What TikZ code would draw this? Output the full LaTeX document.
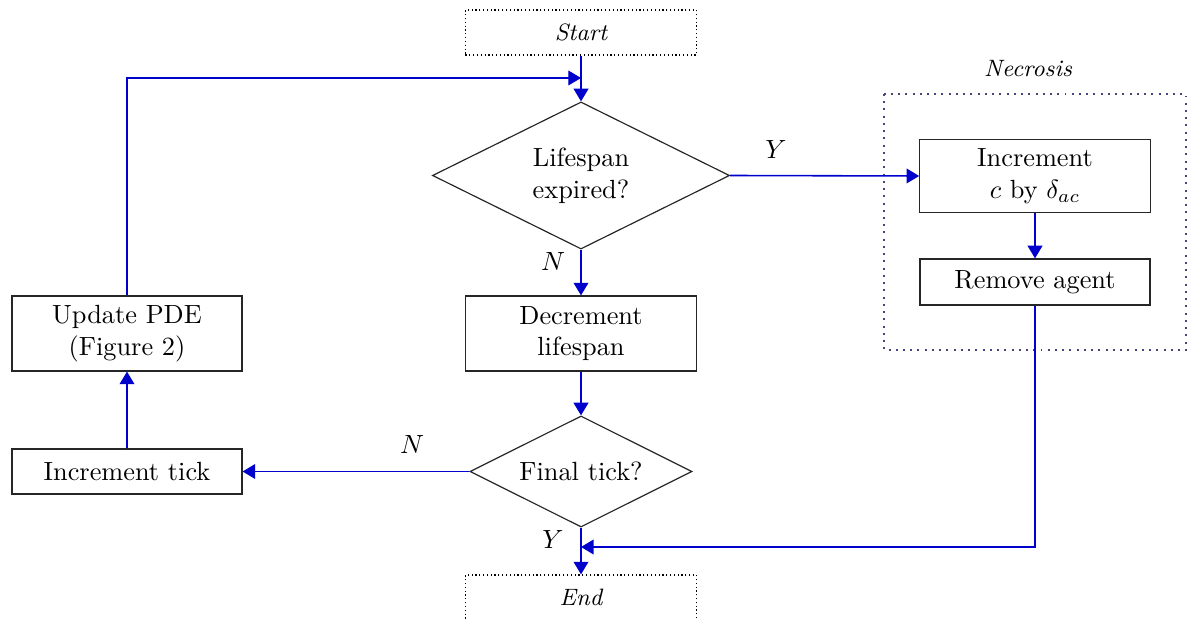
\documentclass[tikz,border=0pt]{standalone}
\usetikzlibrary{shapes.geometric,arrows.meta}
\definecolor{flowblue}{RGB}{0,0,204}
\definecolor{groupframe}{RGB}{70,70,125}
\begin{document}
\begin{tikzpicture}[x=0.38pt,y=-0.38pt,
  box/.style={draw=black!85, line width=0.45pt, rectangle, align=center, inner sep=0pt},
  term/.style={draw=black, densely dotted, line width=0.45pt, minimum width=87.8pt,
    minimum height=17.1pt, inner sep=0pt, font=\small\itshape},
  dec/.style={draw=black!85, line width=0.45pt, diamond, aspect=2, inner sep=0pt, align=center},
  flow/.style={draw=flowblue, line width=0.6pt, -{Triangle[length=4.8pt,width=5.6pt]}},
  lbl/.style={inner sep=0pt}]
\useasboundingbox (0,0) rectangle (1192,619);

% terminals
\node[term] (start) at (581,32.5) {Start};
\node[term] (stop) at (581,597.5) {End};

% main column
\node[dec, minimum width=112.9pt, minimum height=55.9pt] (life) at (581,175.5) {Lifespan\\expired?};
\node[box, minimum width=87.8pt, minimum height=28.5pt] (decr) at (581,333.5) {Decrement\\lifespan};
\node[dec, minimum width=84.4pt, minimum height=42.2pt] (final) at (581,471.5) {Final tick?};

% left column
\node[box, minimum width=87.4pt, minimum height=17.1pt] (tick) at (127,471.5) {Increment tick};
\node[box, minimum width=87.4pt, minimum height=28.5pt] (pde) at (127,333.5) {Update PDE\\(Figure 2)};

% necrosis group
\node[box, minimum width=87.6pt, minimum height=27.7pt] (incc) at (1035,176) {Increment\\$c$ by $\delta_{ac}$};
\node[box, minimum width=87.4pt, minimum height=17.5pt] (rem) at (1035,282) {Remove agent};
\draw[groupframe, dotted, line width=0.75pt] (884,94) rectangle (1186,350);
\node[lbl, font=\small\itshape] (necl) at (1028,69) {Necrosis};

% junction points
\coordinate (loopin) at (581,78);
\coordinate (merge) at (581,547);

% connectors
\draw[flow] (start) -- (life);
\draw[flow, line width=0.4pt] (pde.north) |- (loopin);
\draw[flow] (life.east) -- (incc.west);
\draw[flow] (incc) -- (rem);
\draw[flow] (rem.south) |- (merge);
\draw[flow] (life.south) -- (decr.north);
\draw[flow] (decr) -- (final.north);
\draw[flow] (final.west) -- (tick.east);
\draw[flow] (tick) -- (pde);
\draw[flow] (final.south) -- (stop.north);

% branch labels
\node[lbl] (ly1) at (776,150) {$Y$};
\node[lbl] (ln1) at (553,262) {$N$};
\node[lbl] (ln2) at (412,445) {$N$};
\node[lbl] (ly2) at (553,540) {$Y$};
\end{tikzpicture}
\end{document}
